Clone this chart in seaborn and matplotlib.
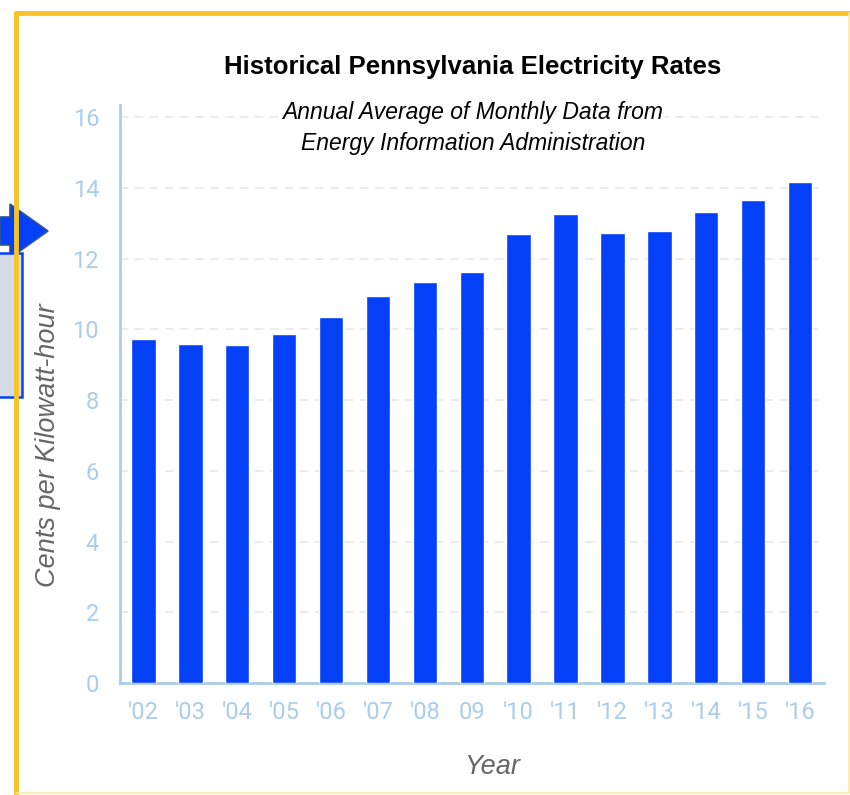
import matplotlib
matplotlib.use("Agg")
import matplotlib.pyplot as plt
from matplotlib.patches import Polygon, Rectangle
from matplotlib.lines import Line2D
import seaborn as sns
import pandas as pd

years = ["'02", "'03", "'04", "'05", "'06", "'07", "'08", "09",
         "'10", "'11", "'12", "'13", "'14", "'15", "'16"]
rates = [9.74, 9.60, 9.57, 9.86, 10.35, 10.95, 11.34, 11.64,
         12.69, 13.27, 12.74, 12.79, 13.32, 13.65, 14.17]
y_ticks = [0, 2, 4, 6, 8, 10, 12, 14, 16]

df = pd.DataFrame({"year": years, "rate": rates})

sns.set_theme(style="white")
plt.rcParams["font.family"] = ["Liberation Sans", "DejaVu Sans"]

W, H = 850, 795
fig = plt.figure(figsize=(8.5, 7.95), dpi=100)
ax = fig.add_axes([120 / W, 1 - 683 / H, (823.5 - 120) / W, (683 - 105) / H])

tick_blue = "#a9cdea"
sns.barplot(data=df, x="year", y="rate", color="#0340f7", saturation=1,
            width=0.52, ax=ax, zorder=3)

ax.set_xlim(-0.5, 14.5)
ax.set_ylim(0, 16.35)
ax.set_yticks(y_ticks)
ax.yaxis.grid(True, linestyle=(0, (5, 4)), color="#e1e9f0", linewidth=1.2, zorder=0)
ax.set_axisbelow(True)
for side in ["top", "right"]:
    ax.spines[side].set_visible(False)
for side in ["left", "bottom"]:
    ax.spines[side].set_color(tick_blue)
    ax.spines[side].set_linewidth(2)
ax.tick_params(axis="y", length=0, pad=15, labelsize=17, labelcolor=tick_blue)
ax.tick_params(axis="x", length=0, pad=13, labelsize=17, labelcolor=tick_blue)
for lab in ax.get_xticklabels() + ax.get_yticklabels():
    lab.set_family(["Roboto", "DejaVu Sans"])

ax.set_xlabel("Year", fontsize=19.5, style="italic", color="#666666")
ax.xaxis.set_label_coords((492 - 120) / 703.5, -(767 - 683) / 578)
ax.xaxis.label.set_va("center")
ax.set_ylabel("Cents per Kilowatt-hour", fontsize=19.5, style="italic", color="#666666")
ax.yaxis.set_label_coords((48 - 120) / 703.5, (683 - 445) / 578)
ax.yaxis.label.set_va("center")

fig.text(473 / W, 1 - 67 / H, "Historical Pennsylvania Electricity Rates",
         ha="center", va="center", fontsize=18.5, fontweight="bold", color="black")
fig.text(473 / W, 1 - 128 / H,
         "Annual Average of Monthly Data from\nEnergy Information Administration",
         ha="center", va="center", fontsize=16.5, style="italic", color="black",
         linespacing=1.45,
         bbox=dict(facecolor="white", edgecolor="none", pad=1))

# yellow frame
fig.add_artist(Line2D([16 / W, 16 / W], [1 - 13 / H, 0], transform=fig.transFigure,
                      color="#f7c325", linewidth=3.5))
fig.add_artist(Line2D([16 / W, 1], [1 - 13 / H, 1 - 13 / H], transform=fig.transFigure,
                      color="#f7c325", linewidth=3.5))
fig.add_artist(Line2D([848.5 / W, 848.5 / W], [1 - 13 / H, 1 - 793 / H],
                      transform=fig.transFigure, color="#fbe9a6", linewidth=1.2))
fig.add_artist(Line2D([16 / W, 848.5 / W], [1 - 793 / H, 1 - 793 / H],
                      transform=fig.transFigure, color="#fbe9a6", linewidth=1.2))

# arrow and box on the left edge
arrow_px = [(0, 217), (10, 217), (10, 204), (48, 231), (10, 258), (10, 245), (0, 245)]
fig.add_artist(Polygon([(x / W, 1 - y / H) for x, y in arrow_px], closed=True,
                       transform=fig.transFigure, facecolor="#0340f7",
                       edgecolor="#2f5597", linewidth=1.2))
fig.add_artist(Rectangle((-2 / W, 1 - 397 / H), 24 / W, (397 - 253) / H,
                         transform=fig.transFigure, facecolor="#d6dce5",
                         edgecolor="#0340f7", linewidth=1.8))

fig.savefig("out.png", dpi=100)
